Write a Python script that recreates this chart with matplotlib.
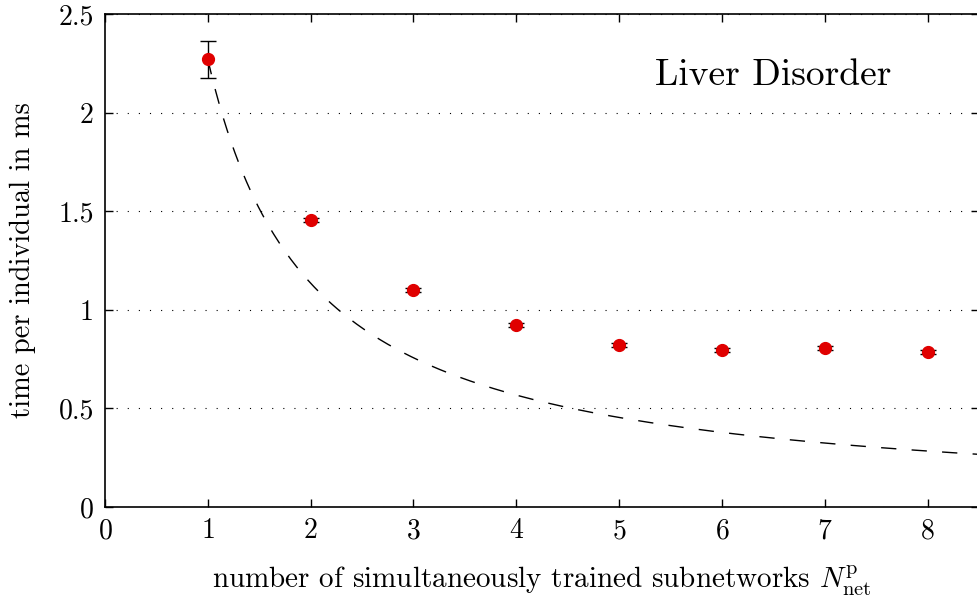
import matplotlib
matplotlib.use("Agg")
import matplotlib.pyplot as plt
import numpy as np

plt.rcParams['font.family'] = 'serif'
plt.rcParams['font.serif'] = ['cmr10']
plt.rcParams['mathtext.fontset'] = 'cm'
plt.rcParams['axes.formatter.use_mathtext'] = True

# measured run times (ms) per number of subnetworks
n_net = [1, 2, 3, 4, 5, 6, 7, 8]
t_ind = [2.27, 1.455, 1.10, 0.925, 0.82, 0.795, 0.808, 0.785]
t_err = [0.093, 0.012, 0.010, 0.010, 0.010, 0.010, 0.010, 0.010]

x_ticks = [0, 1, 2, 3, 4, 5, 6, 7, 8]
y_ticks = [0, 0.5, 1, 1.5, 2, 2.5]
y_ticklabels = ['0', '0.5', '1', '1.5', '2', '2.5']

fig = plt.figure(figsize=(9.77, 6.04), dpi=100)
# right spine sits just past the figure edge, as in the cropped original
ax = fig.add_axes([105/977, 97/604, 874/977, 493/604])

# ideal scaling curve t(1)/N
xs = np.linspace(1, 8.5, 400)
ax.plot(xs, t_ind[0] / xs, '--', color='black', lw=1.0, dashes=(11, 11))

ax.errorbar(n_net, t_ind, yerr=t_err, fmt='o', color='#e00000', ms=8.5,
            ecolor='black', elinewidth=1.0, capsize=6, capthick=1.0, zorder=3)

ax.set_xlim(0, 8.5)
ax.set_ylim(0, 2.5)
ax.set_xticks(x_ticks)
ax.set_yticks(y_ticks)
ax.set_yticklabels(y_ticklabels)
ax.tick_params(direction='in', length=6, width=1, labelsize=20, top=True, right=True, pad=8)
ax.yaxis.grid(True, linestyle=(0, (1, 9)), color='black', lw=0.8)
for s in ax.spines.values():
    s.set_linewidth(1.2)

ax.set_xlabel(r'number of simultaneously trained subnetworks $N_{\mathrm{net}}^{\mathrm{p}}$', fontsize=21, labelpad=14)
ax.set_ylabel('time per individual in ms', fontsize=20.5, labelpad=16)
ax.text(6.5, 2.19, 'Liver Disorder', fontsize=27, ha='center', va='center')

fig.savefig('out.png', dpi=100)
